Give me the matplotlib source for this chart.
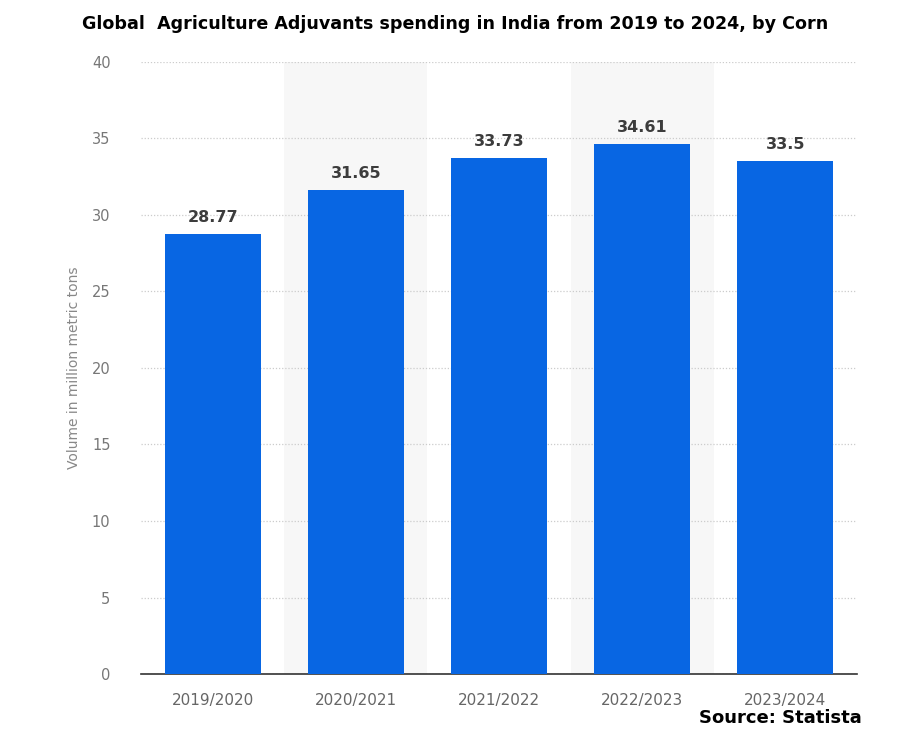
import numpy as np
import matplotlib.pyplot as plt

seasons = ["2019/2020", "2020/2021", "2021/2022", "2022/2023", "2023/2024"]
volume = [28.77, 31.65, 33.73, 34.61, 33.5]
labels = ["28.77", "31.65", "33.73", "34.61", "33.5"]
yticks = [0, 5, 10, 15, 20, 25, 30, 35, 40]

fig = plt.figure(figsize=(9.04, 7.41), dpi=100)
ax = fig.add_axes([0.156, 0.0904, 0.792, 0.826])

x = np.arange(len(seasons))
# light bands behind every other column
for i in x:
    if i % 2 == 1:
        ax.axvspan(i - 0.5, i + 0.5, color="#f7f7f7", zorder=0, lw=0)

bars = ax.bar(x, volume, width=0.67, color="#0866e3", zorder=3)
for b, t in zip(bars, labels):
    ax.text(b.get_x() + b.get_width() / 2, b.get_height() + 0.6, t,
            ha="center", va="bottom", fontsize=11.5, fontweight="bold",
            color="#3c3c3c", zorder=4)

ax.set_xlim(-0.5, 4.5)
ax.set_ylim(0, 40)
ax.set_yticks(yticks)
ax.set_xticks(x)
ax.set_xticklabels(seasons, fontsize=11, color="#666666")
ax.tick_params(axis="y", labelsize=10.5, labelcolor="#777777", length=0, pad=22)
ax.tick_params(axis="x", length=0, pad=14)
ax.yaxis.grid(True, linestyle=(0, (1, 1.5)), color="#cccccc", lw=0.9, zorder=1)
for s in ["top", "right", "left"]:
    ax.spines[s].set_visible(False)
ax.spines["bottom"].set_color("#333333")
ax.spines["bottom"].set_linewidth(1.2)
ax.set_ylabel("Volume in million metric tons", fontsize=10, color="#888888", labelpad=8)

fig.text(0.504, 0.967, "Global  Agriculture Adjuvants spending in India from 2019 to 2024, by Corn",
         ha="center", va="center", fontsize=12.6, fontweight="bold", color="black")
fig.text(0.953, 0.031, "Source: Statista", ha="right", va="center",
         fontsize=13, fontweight="bold", color="black")

fig.savefig("out.png", dpi=100)
